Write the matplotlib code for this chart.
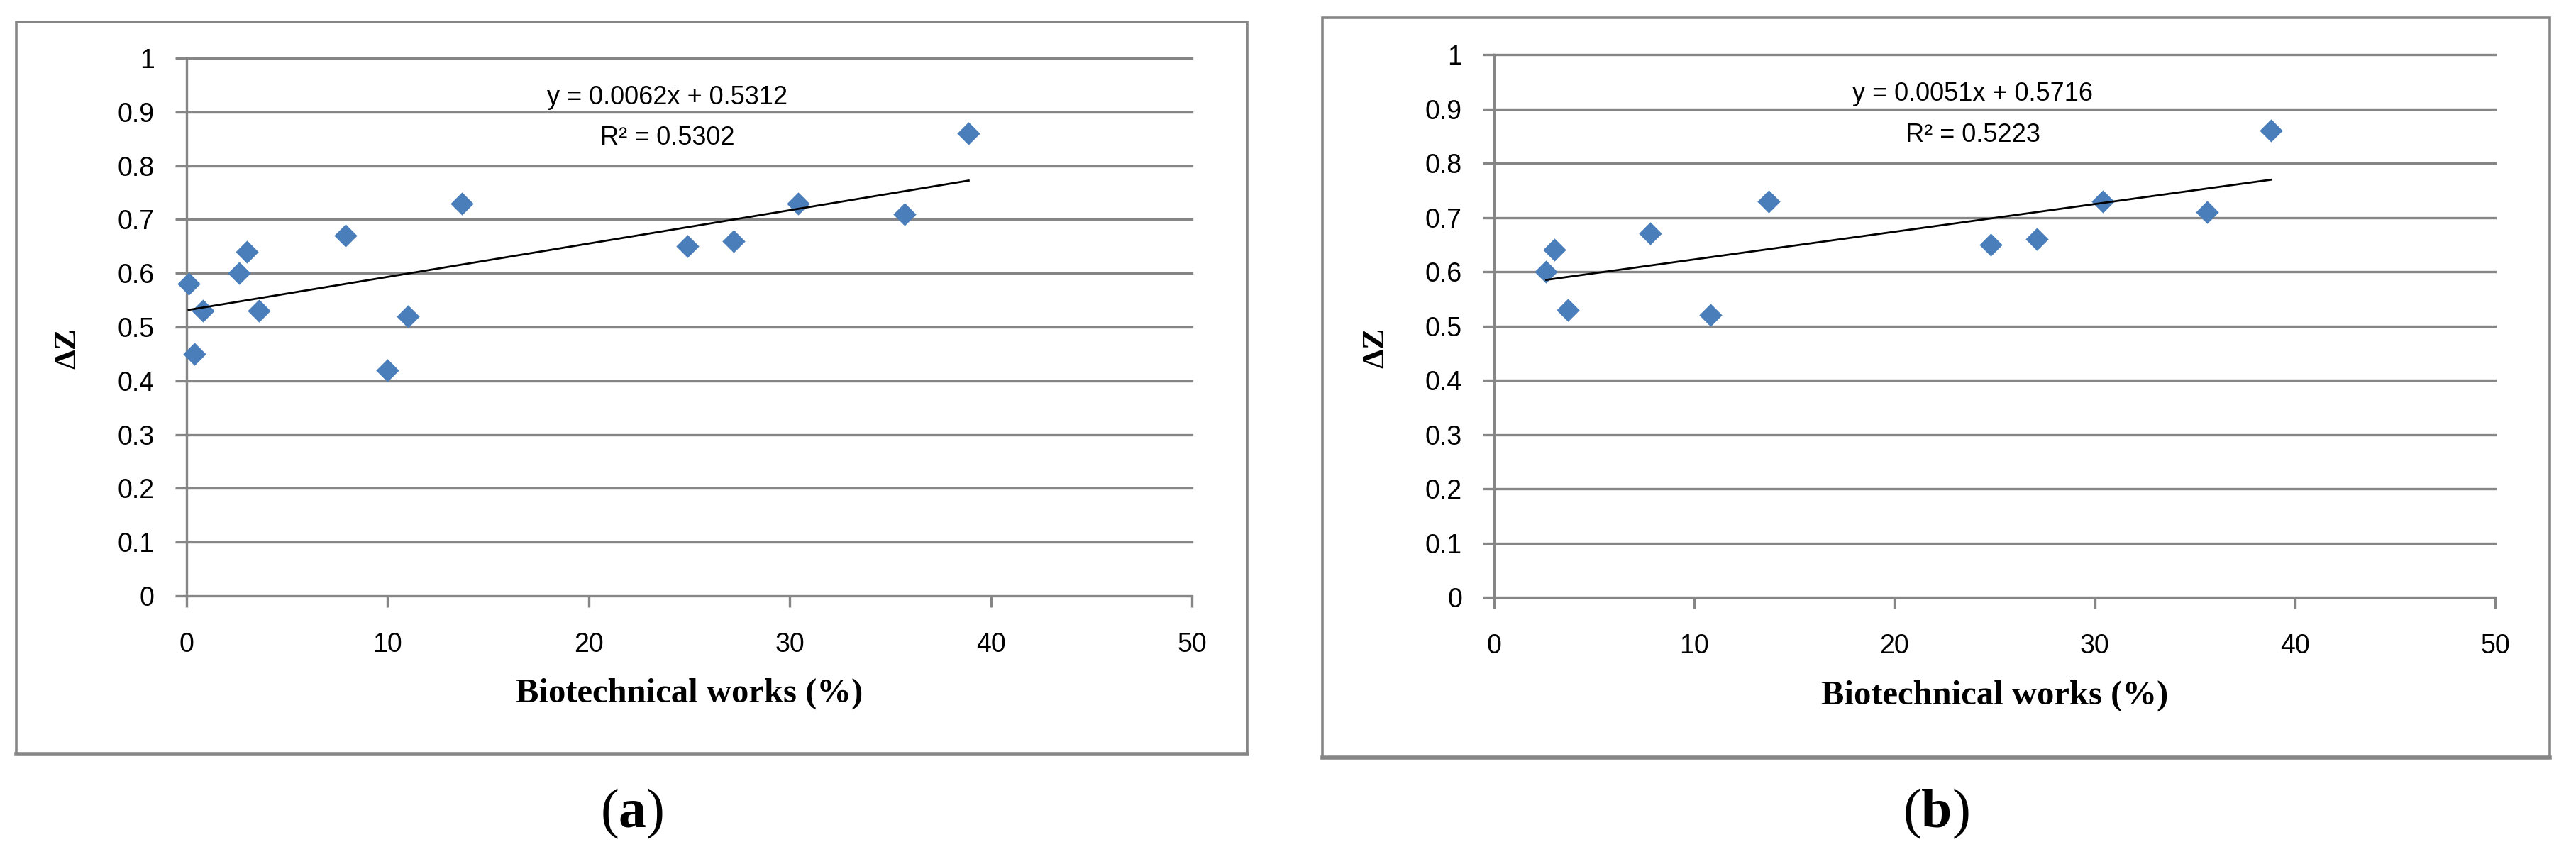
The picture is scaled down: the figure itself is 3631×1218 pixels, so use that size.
import numpy as np
import matplotlib
matplotlib.use("Agg")
import matplotlib.pyplot as plt
from matplotlib.patches import Rectangle

# data
x_a = [0.1, 0.4, 0.8, 2.6, 3.0, 3.6, 7.9, 10.0, 11.0, 13.7, 24.9, 27.2, 30.4, 35.7, 38.9]
y_a = [0.58, 0.45, 0.53, 0.60, 0.64, 0.53, 0.67, 0.42, 0.52, 0.73, 0.65, 0.66, 0.73, 0.71, 0.86]
slope_a, intercept_a, r2_a = 0.0062, 0.5312, 0.5302

x_b = [2.6, 3.0, 3.7, 7.8, 10.8, 13.7, 24.8, 27.1, 30.4, 35.6, 38.8]
y_b = [0.60, 0.64, 0.53, 0.67, 0.52, 0.73, 0.65, 0.66, 0.73, 0.71, 0.86]
slope_b, intercept_b, r2_b = 0.0051, 0.5716, 0.5223

x_ticks = [0, 10, 20, 30, 40, 50]
y_ticks = [0, 0.1, 0.2, 0.3, 0.4, 0.5, 0.6, 0.7, 0.8, 0.9, 1]
y_ticklabels = ['0', '0.1', '0.2', '0.3', '0.4', '0.5', '0.6', '0.7', '0.8', '0.9', '1']

GRAY = '#868686'
BLUE = '#4A7EBB'

plt.rcParams['mathtext.fontset'] = 'custom'
plt.rcParams['mathtext.rm'] = 'Liberation Serif'
plt.rcParams['mathtext.bf'] = 'Liberation Serif:bold'

fig = plt.figure(figsize=(36.31, 12.18), dpi=100)


def draw_panel(ax_rect, box_rect, xs, ys, slope, intercept, r2, caption):
    fig.add_artist(Rectangle(box_rect[:2], box_rect[2], box_rect[3], transform=fig.transFigure,
                             fill=False, ec=GRAY, lw=2.6, zorder=0))
    # darker bottom edge like the original frame shadow
    fig.add_artist(plt.Line2D([box_rect[0], box_rect[0] + box_rect[2]], [box_rect[1], box_rect[1]],
                              transform=fig.transFigure, color=GRAY, lw=4, zorder=0))
    ax = fig.add_axes(ax_rect)
    ax.set_xlim(0, 50)
    ax.set_ylim(0, 1)
    for s in ['top', 'right']:
        ax.spines[s].set_visible(False)
    for s in ['left', 'bottom']:
        ax.spines[s].set_color(GRAY)
        ax.spines[s].set_linewidth(2.4)
    ax.set_xticks(x_ticks)
    ax.set_yticks(y_ticks)
    ax.set_yticklabels(y_ticklabels)
    ax.tick_params(axis='both', colors=GRAY, labelcolor='black', width=2.4, length=11.5,
                   labelsize=27)
    ax.tick_params(axis='y', pad=21)
    ax.tick_params(axis='x', pad=25)
    for lab in ax.get_xticklabels() + ax.get_yticklabels():
        lab.set_family('Liberation Sans')
    for yv in y_ticks[1:]:
        ax.axhline(yv, color=GRAY, lw=2.4, zorder=1, clip_on=False)

    ax.scatter(xs, ys, marker='D', s=16.5 ** 2, color=BLUE, zorder=3, clip_on=False, linewidths=0)
    xl = np.array([min(xs), max(xs)])
    ax.plot(xl, slope * xl + intercept, color='black', lw=2.0, zorder=4)

    ax.text(23.9, 0.927, f'y = {slope:.4f}x + {intercept:.4f}', ha='center', va='center',
            fontsize=26, family='Liberation Sans')
    ax.text(23.9, 0.851, f'R² = {r2:.4f}', ha='center', va='center',
            fontsize=26, family='Liberation Sans')

    ax.text(-0.118, 0.46, 'ΔZ', rotation=90, ha='center', va='center', transform=ax.transAxes,
            fontsize=32, fontweight='bold', family='Liberation Serif')
    ax.text(0.5, -0.182, 'Biotechnical works (%)', ha='center', va='center', transform=ax.transAxes,
            fontsize=35, fontweight='bold', family='Liberation Serif')

    fig.text(box_rect[0] + box_rect[2] / 2, 1 - 1147 / 1218, '(' + r'$\mathbf{' + caption + '}$' + ')',
             ha='center', va='center', fontsize=56, family='Liberation Serif')
    return ax


draw_panel([0.07243, 0.31034, 0.39025, 0.62233], [0.00633, 0.1273, 0.4778, 0.8473],
           x_a, y_a, slope_a, intercept_a, r2_a, 'a')
draw_panel([0.58001, 0.30870, 0.38860, 0.62808], [0.5134, 0.1232, 0.4765, 0.8563],
           x_b, y_b, slope_b, intercept_b, r2_b, 'b')

fig.savefig('out.png', dpi=100, facecolor='white')
